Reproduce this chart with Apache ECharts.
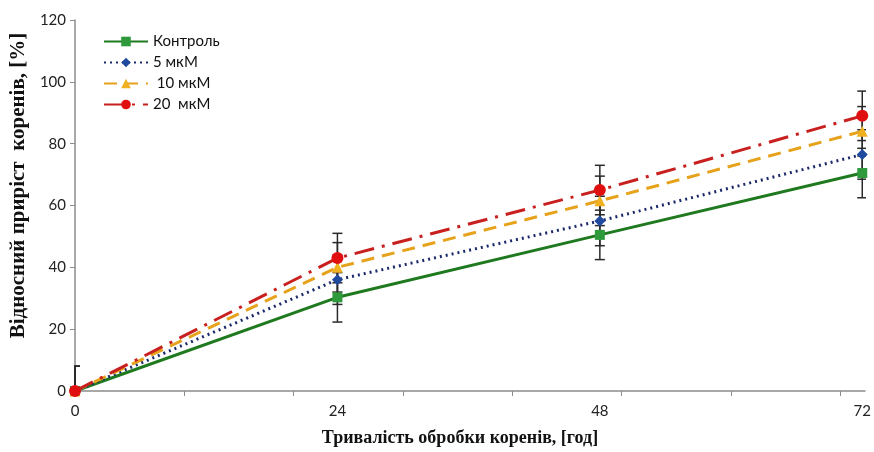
<!DOCTYPE html>
<html>
<head>
<meta charset="utf-8">
<script src="https://cdn.jsdelivr.net/npm/echarts@6/dist/echarts.min.js"></script>
<style>html,body{margin:0;padding:0;background:#fff}#c{width:874px;height:452px}</style>
</head>
<body>
<div id="c"></div>
<script>
const hours = [0, 24, 48, 72];
const seriesNames = ['Контроль', '5 мкМ', ' 10 мкМ', '20  мкМ'];
const control = [0, 30.3, 50.5, 70.5];
const mkm5 = [0, 36, 55, 76.5];
const mkm10 = [0, 40, 61.5, 84];
const mkm20 = [0, 43, 65, 89];
const errControl = [8, 8, 8, 8];
const err5 = [8, 8, 8, 8];
const err10 = [8, 8, 8, 8];
const err20 = [8, 8, 8, 8];
const xTickValues = [10, 20, 30, 40, 50, 60, 70];
const xLabelValues = [0, 24, 48, 72];

const values = [control, mkm5, mkm10, mkm20];
const errs = [errControl, err5, err10, err20];
const styles = [
  {color: '#1f7a1f', mark: '#2e9a3c', symbol: 'rect', size: 10, type: 'solid', width: 3},
  {color: '#1b2a6b', mark: '#1f4aa0', symbol: 'diamond', size: 11, type: [2, 4], width: 3},
  {color: '#e6a21a', mark: '#f0b020', symbol: 'triangle', size: 11, type: [13, 8], width: 3},
  {color: '#c8201f', mark: '#e01010', symbol: 'circle', size: 12, type: [20, 8, 3, 8], width: 3}
];

const series = [];
values.forEach((vals, i) => {
  series.push({
    type: 'custom',
    name: 'err' + i,
    clip: true,
    z: 1,
    silent: true,
    data: hours.map((h, j) => [h, vals[j] - errs[i][j], vals[j] + errs[i][j]]),
    renderItem: function (params, api) {
      const lo = api.coord([api.value(0), api.value(1)]);
      const hi = api.coord([api.value(0), api.value(2)]);
      const hw = 5;
      const st = {stroke: '#2a2a2a', lineWidth: 1.5};
      return {
        type: 'group',
        children: [
          {type: 'line', shape: {x1: hi[0], y1: hi[1], x2: lo[0], y2: lo[1]}, style: st},
          {type: 'line', shape: {x1: hi[0] - hw, y1: hi[1], x2: hi[0] + hw, y2: hi[1]}, style: st},
          {type: 'line', shape: {x1: lo[0] - hw, y1: lo[1], x2: lo[0] + hw, y2: lo[1]}, style: st}
        ]
      };
    }
  });
});
values.forEach((vals, i) => {
  const s = styles[i];
  series.push({
    type: 'line',
    name: seriesNames[i],
    z: 3 + i,
    data: hours.map((h, j) => [h, vals[j]]),
    symbol: s.symbol,
    symbolSize: s.size,
    showAllSymbol: true,
    lineStyle: {color: s.color, width: s.width, type: s.type},
    itemStyle: {color: s.mark, borderWidth: 0},
    animation: false
  });
});

const chart = echarts.init(document.getElementById('c'), null, {renderer: 'canvas'});
chart.setOption({
  animation: false,
  backgroundColor: '#fff',
  grid: {left: 74, right: 9, top: 20, bottom: 57, containLabel: false},
  legend: {
    orient: 'vertical',
    left: 98,
    top: 29,
    itemWidth: 44,
    itemHeight: 12,
    itemGap: 6,
    data: seriesNames,
    textStyle: {fontFamily: 'Lato', fontSize: 15, color: '#111'}
  },
  xAxis: {
    type: 'value',
    min: 0,
    max: 72.25,
    splitLine: {show: false},
    axisLine: {lineStyle: {color: '#8c8c8c', width: 1.5}},
    axisTick: {show: true, customValues: xTickValues, length: 5, lineStyle: {color: '#8c8c8c'}},
    axisLabel: {customValues: xLabelValues, fontFamily: 'Lato', fontSize: 15, color: '#222', margin: 13},
    name: 'Тривалість обробки коренів, [год]',
    nameLocation: 'middle',
    nameGap: 38,
    nameTextStyle: {fontFamily: 'Liberation Serif', fontWeight: 'bold', fontSize: 18, color: '#111', padding: [0, 20, 0, 0]}
  },
  yAxis: {
    type: 'value',
    min: 0,
    max: 120,
    interval: 20,
    splitLine: {show: false},
    axisLine: {show: true, lineStyle: {color: '#8c8c8c', width: 1.5}},
    axisTick: {show: true, length: 5, lineStyle: {color: '#8c8c8c'}},
    axisLabel: {fontFamily: 'Lato', fontSize: 15, color: '#222', margin: 9},
    name: 'Відносний приріст  коренів, [%]',
    nameLocation: 'middle',
    nameGap: 42,
    nameTextStyle: {fontFamily: 'Liberation Serif', fontWeight: 'bold', fontSize: 21, color: '#111', padding: [0, 0, 0, 40]}
  },
  series: series
});
</script>
</body>
</html>
